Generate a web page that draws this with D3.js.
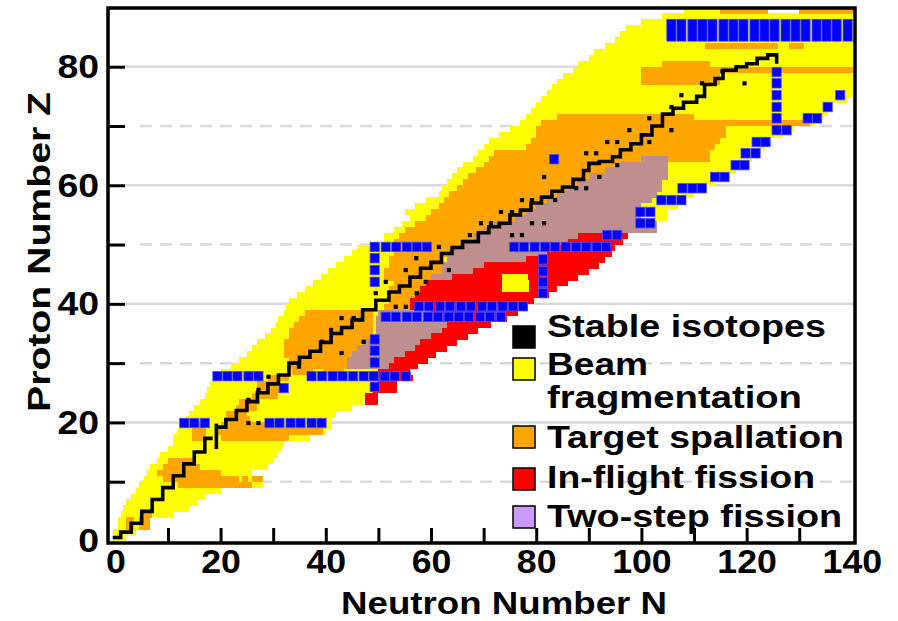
<!DOCTYPE html>
<html>
<head>
<meta charset="utf-8">
<script src="https://cdn.jsdelivr.net/npm/d3@7"></script>
<style>
  body { margin: 0; background: #fff; }
  text { font-family: 'Liberation Sans', Arial, sans-serif; font-weight: bold; fill: #000; }
</style>
</head>
<body>
<div id="chart"></div>
<script>
// ---- data: [Z row, N from, N to] ----
const beamRows = [
  [0,-0.5,2],[1,-0.5,4],[2,0.5,5],[3,0.5,6.5],[4,1,11],[5,1.5,14],[6,2,15.5],[7,3,17],[8,4,20],[9,4.5,28],
  [10,5.5,28],[11,6,26],[12,6.5,29],[13,8,30],[14,8.5,31],[15,10,31.5],[16,11,32],[17,11,37],[18,12,40],[19,12.5,41],
  [20,13.5,41],[21,14,42],[22,15,45],[23,16,47],[24,17,48],[25,17.5,53.5],[26,18,53.5],[27,18.5,56.5],[28,20,56],[29,22,57.5],
  [30,23.5,59.5],[31,25,61],[32,26,63],[33,27,65],[34,28.5,67],[35,29.5,69],[36,30.5,71.5],[37,31,74.5],[38,32,76.5],[39,32.5,78.5],
  [40,33,79.5],[41,34.5,82.5],[42,36,84],[43,37.5,86],[44,39,88],[45,40.5,90],[46,42,92],[47,43.5,93],[48,45,94.5],[49,46,95],
  [50,51,96.5],[51,51,97.5],[52,53,103],[53,54.5,103],[54,56,105],[55,55,105],[56,57,107],[57,59,108],[58,61.5,110],[59,62,112],
  [60,63,114],[61,64,116.5],[62,65,118],[63,66,120],[64,68,121],[65,69,122.5],[66,70,123.5],[67,71,124.5],[68,73,127],[69,75,129],
  [70,77,133],[71,78,134.5],[72,79,135.5],[73,80,136.5],[74,81,139],[75,82,141],[76,83,141],[77,84,141],[78,85,141],[79,87,141],
  [80,88,141],[81,90,141],[82,91,141],[83,93,141],[84,95,141],[85,96,141],[86,97,141],[87,100,141],[88,104,141],
  [89,108,124],[89,130,141]
];

const spallationRows = [
  [2,2,3.5],[3,2,3.5],[2,4.5,6.5],[3,4.5,6.5],[4,5,7],
  [9,12,26],[10,9,23.5],[10,24,25.3],[10,26,28],[11,8,20],[12,9,16],[13,10,15],
  [17,14.5,17.3],[18,14.5,17.3],[19,15,17.3],
  [17,20,33],[18,19.5,39.5],[19,20,28.5],[20,21,25.5],[21,21,25],
  [22,23,27],[23,23.5,27.5],[24,26,31],[25,27,32],[26,27,31],[27,29,33],
  [28,33.5,37.5],[28,39.5,43.5],[29,33,44],[30,33,44],[31,32,45],[32,32,46],[33,32,47],
  [34,33,49],[35,33,49],[36,34,49],[37,35,49],[38,36,49],
  [39,51,56],[40,52,58],[41,52,59],[42,52,60],[43,53,60],[44,51,61],[45,51,62],[46,52,62],[47,52,62],[48,53,63],[49,56,64],
  [50,53,66],[51,54,68],[52,55,70],[53,57,72],[54,59,76],[55,60,78],[56,61.5,80],[57,62.5,82],[58,63.5,84],[59,65,86],
  [60,66,88],[61,67,90],[62,68.5,93],[63,70,96],
  [64,71,113],[65,72,113],[66,78,114],[67,79,115],[68,80,116],[69,80,116],[70,81,116],[70,116,132],[71,84,110],
  [77,100,115],[78,100,115],[79,100,141],[80,104,113],[83,112,126],[83,128,131],[89,115,124],[89,130,141]
];

const twoStepRows = [
  [29,44,52],[30,44,53],[31,45,55],[32,46,57],[33,47,58],[34,49.5,60],[35,49.5,62],[36,49.5,63],[37,49.5,60],[38,50,60],
  [44,60,64],[45,62,68],[46,62,70],[47,63,78],[48,63,82],[49,64,75],[50,66,86],[51,68,88],[52,70,103],[53,72,103],
  [54,76,100],[55,78,100],[56,80,100],[57,82,102],[58,84,103],[59,86,104],[60,88,104],[61,90,105],[62,93,105],[63,96,105],[64,100,105]
];

const inflightRows = [
  [23,47.5,50],[24,47.5,50],[25,49,53.5],[26,50,53.5],[27,50,56.5],[28,50,56],[29,52,57.5],[30,53,59.5],[31,55,61],
  [32,57,63],[33,58,65],[34,60,67],[35,62,69],[36,63,71.5],[37,60,74.5],[38,60,76.5],[39,56,78.5],[40,56,79.5],
  [41,57,82.5],[42,58,84],[43,59,86],[44,64,88],[45,68,90],[46,70,92],[47,78,93],[48,82,94.5],[49,82,95],[50,86,96.5],[51,88,97.5]
];

// yellow spots lying inside the fission area
const beamSpots = [[42,73.5,78.7],[43,73.5,78.7],[44,73.5,78.5]];

// blue markers, [N, Z] centres
const magicZ20 = [[13.1,19.9],[15,19.9],[17,19.9],[29.3,19.9],[31.2,19.9],[33.3,19.9],[35.2,19.9],[37.3,19.9],[39.2,19.9]];
const magicZ28 = [[19.4,27.8],[21.3,27.8],[23.2,27.8],[25.3,27.8],[27.2,27.8],[37.3,27.8],[39.3,27.8],[41.3,27.8],[43.2,27.8],
  [45.2,27.8],[47.2,27.8],[49.1,27.8],[51.2,27.8],[53.1,27.8],[55.2,27.8],[32,25.8]];
const magicN50 = [[49.3,26],[49.3,30.1],[49.3,32.1],[49.3,34],[49.3,43.7],[49.3,45.7],[49.3,47.7]];
const magicZ38 = [[51.4,37.8],[53.3,37.8],[55.4,37.8],[57.3,37.8],[59.4,37.8],[61.3,37.8],[63.4,37.8],[65.3,37.8],[67.2,37.8],
  [69.3,37.8],[71.2,37.8],[73.3,37.8]];
const magicZ40 = [[57.7,39.6],[59.6,39.6],[61.7,39.6],[63.6,39.6],[65.7,39.6],[67.6,39.6],[69.7,39.6],[71.6,39.6],[73.6,39.6],
  [75.6,39.6],[77.5,39.6]];
const magicZ50 = [[49.3,49.6],[51.4,49.6],[53.4,49.6],[55.4,49.6],[57.3,49.6],[59.2,49.6],[75.8,49.6],[77.7,49.6],[79.7,49.6],
  [81.7,49.6],[83.6,49.6],[85.6,49.6],[87.6,49.6],[89.5,49.6],[91.5,49.6],[93.3,49.6]];
const magicN82 = [[81.3,47.5],[81.3,45.5],[81.3,43.7],[81.3,41.8]];
const dripLine = [[93.5,51.6],[95.4,51.6],[99.8,53.6],[101.7,53.6],[99.8,55.5],[101.7,55.5],[103.8,57.5],[105.7,57.5],[107.6,57.5],
  [107.8,59.5],[109.7,59.5],[111.5,59.5],[114,61.4],[115.8,61.4],[117.9,63.4],[119.6,63.4],[119.8,65.4],[121.7,65.4],
  [121.9,67.3],[123.6,67.3],[125.7,69.3],[127.6,69.3],[131.6,71.3],[133.4,71.3],[135.4,73.2],[137.8,75.2],[83.4,64.4]];
const magicN126 = [[125.7,71.3],[125.7,73.2],[125.7,75.2],[125.7,77.2],[125.7,79.1]];
// band of tall markers along the top, N centres and its Z span
const topBandN = [105.7,107.6,109.7,111.6,113.5,115.6,117.5,119.4,121.5,123.4,125.3,127.4,129.3,131.2,133.3,135.2,137.1,139.2];
const topBandZ = [84.3, 88];

// stable isotopes: valley line and single ones
const stableLow = [[-0.5,0.6],[1,1.5],[3,3],[5,5],[7,7],[9,9],[11,11],[13,13],[15,15],[17,17.3],[18.5,17.3]];
const stableN20 = [[19.2,15.5],[19.2,19.8]];
const stableMain = [[19.2,19.2],[21,20.5],[23,22],[25,23.5],[27,25],[29,26.5],[31,28],[33,30],[35,31],[37,32],[39,33.5],
  [41,35],[43,36],[45,37.3],[47,39],[49.5,40.6],[52,42],[54,43],[56,44.5],[58,46],[60,47],[62,48.5],[64,49.5],[66,50.5],
  [69,52],[71,53],[73,53.6],[75,55],[77,55.8],[79,57],[81,58],[83,59],[85,59.7],[87,61],[89,62.5],[90,63.7],[92,64],
  [94.5,64.8],[96,66],[98,67],[100,68.5],[102,70],[104,72],[106,73],[108,74],[110.5,75],[112,77],[114,78],[115.5,79.4],
  [118,80],[120,80.5],[122,81.4],[124,82],[125.7,82.3],[125.7,80.5]];
const stableDots = [[25.3,19.9],[27.2,19.9],[25.3,23.8],[27.2,25.5],[29.1,27.7],[34.9,29.4],[39.3,33.6],[41,35.6],[43,31.7],
  [43,37.6],[45.3,37.6],[47.2,33.6],[49.5,41.8],[51.4,43.7],[53.3,39.5],[55.2,39.5],[55.2,45.7],[57.2,47.7],[59,43.7],
  [57.3,41.8],[63.4,45.7],[61.5,49.6],[67.4,51.6],[69.5,53.6],[71.4,53.6],[73.3,55.5],[75.4,55.5],[75.4,51.6],[77.3,51.6],
  [79.2,53.6],[81.5,53.6],[77.3,57.5],[79.2,57.5],[83.6,57.5],[87.6,59.5],[89.5,59.5],[81.5,61.4],[92,61.4],[95.4,63.4],
  [89.5,65.4],[91.4,65.4],[93.5,67.3],[95.4,67.3],[97.7,69.3],[101.5,67.3],[105.7,69.3],[101.5,71.3],[105.7,73.2],
  [107.6,75.2],[111.5,77.2],[119.6,77.2],[115.4,79.2]];

const zTicks = [10,20,30,40,50,60,70,80];
const nTicks = [10,20,30,40,50,60,70,80,90,100,110,120,130];
const zLabels = [0,20,40,60,80];
const nLabels = [0,20,40,60,80,100,120,140];
const gridSolid = [20,40,60,80];
const gridDashed = [10,30,50,70];

const legendItems = [
  { lines: ['Stable isotopes'], color: '#000000', w: [279] },
  { lines: ['Beam', 'fragmentation'], color: '#ffff00', w: [101, 255] },
  { lines: ['Target spallation'], color: '#ffa500', w: [297] },
  { lines: ['In-flight fission'], color: '#ff0000', w: [268] },
  { lines: ['Two-step fission'], color: '#cc99ff', w: [295] }
];

// ---- drawing ----
const width = 898, height = 621;
const plot = { left: 108, right: 855, top: 8, bottom: 543 };

const xScale = d3.scaleLinear().domain([-1.4, 140.6]).range([plot.left, plot.right]);
const yScale = d3.scaleLinear().domain([-0.34, 89.9]).range([plot.bottom, plot.top]);

const svg = d3.select('#chart').append('svg')
  .attr('width', width)
  .attr('height', height);

svg.append('defs').append('clipPath').attr('id', 'plot-clip')
  .append('rect')
    .attr('x', plot.left).attr('y', plot.top)
    .attr('width', plot.right - plot.left).attr('height', plot.bottom - plot.top);

// grid
const gridG = svg.append('g').attr('class', 'grid');
gridG.selectAll('.solid').data(gridSolid).enter().append('line')
  .attr('class', 'solid')
  .attr('x1', plot.left + 17).attr('x2', plot.right)
  .attr('y1', d => yScale(d)).attr('y2', d => yScale(d))
  .attr('stroke', '#d9d9d9').attr('stroke-width', 2.5);
gridG.selectAll('.dash').data(gridDashed).enter().append('line')
  .attr('class', 'dash')
  .attr('x1', plot.left + 32).attr('x2', plot.right)
  .attr('y1', d => yScale(d)).attr('y2', d => yScale(d))
  .attr('stroke', '#d9d9d9').attr('stroke-width', 2.5)
  .attr('stroke-dasharray', '12,8');

const cells = svg.append('g').attr('clip-path', 'url(#plot-clip)');
const rowH = yScale(0) - yScale(1);

const drawRows = (rows, color) => {
  cells.append('g').selectAll('rect').data(rows).enter().append('rect')
    .attr('x', d => xScale(d[1]))
    .attr('y', d => yScale(d[0] + 1))
    .attr('width', d => xScale(d[2]) - xScale(d[1]))
    .attr('height', rowH + 0.4)
    .attr('fill', color)
    .attr('shape-rendering', 'crispEdges');
};

drawRows(beamRows, '#ffff00');
drawRows(spallationRows, '#ffa500');
drawRows(twoStepRows, '#bf8f8f');
drawRows(inflightRows, '#ff0000');
drawRows(beamSpots, '#ffff00');

// blue markers
const bw = xScale(1.75) - xScale(0);
const bh = yScale(0) - yScale(1.6);
const markers = [].concat(magicZ20, magicZ28, magicN50, magicZ38, magicZ40, magicZ50, magicN82, dripLine, magicN126);
const blueG = cells.append('g');
blueG.selectAll('.marker').data(markers).enter().append('rect')
  .attr('class', 'marker')
  .attr('x', d => xScale(d[0]) - bw / 2)
  .attr('y', d => yScale(d[1]) - bh / 2)
  .attr('width', bw)
  .attr('height', bh)
  .attr('fill', '#0000ff')
  .attr('stroke', '#5050ff')
  .attr('stroke-width', 0.8);
blueG.selectAll('.band').data(topBandN).enter().append('rect')
  .attr('class', 'band')
  .attr('x', d => xScale(d) - bw / 2)
  .attr('y', yScale(topBandZ[1]))
  .attr('width', bw)
  .attr('height', yScale(topBandZ[0]) - yScale(topBandZ[1]))
  .attr('fill', '#0000ff')
  .attr('stroke', '#5050ff')
  .attr('stroke-width', 0.8);

// stable isotopes
const stepLine = d3.line()
  .x(d => xScale(d[0]))
  .y(d => yScale(d[1]))
  .curve(d3.curveStepAfter);
[stableLow, stableN20, stableMain].forEach(pts => {
  cells.append('path')
    .attr('d', stepLine(pts))
    .attr('fill', 'none')
    .attr('stroke', '#000')
    .attr('stroke-width', 3.6);
});
cells.append('g').selectAll('rect').data(stableDots).enter().append('rect')
  .attr('x', d => xScale(d[0]) - 2.1)
  .attr('y', d => yScale(d[1]) - 2.1)
  .attr('width', 4.2).attr('height', 4.2)
  .attr('fill', '#000');

// stretch text horizontally like the source image
const stretch = (sel, k) => sel.each(function() {
  const w = this.getComputedTextLength();
  if (w > 0) d3.select(this).attr('textLength', w * k).attr('lengthAdjust', 'spacingAndGlyphs');
});

// axes
const yAxis = d3.axisLeft(yScale)
  .tickValues(zTicks.concat([0]))
  .tickSize(-17)
  .tickPadding(9)
  .tickFormat(d => zLabels.includes(d) ? d : '');
const yAxisG = svg.append('g')
  .attr('transform', `translate(${plot.left}, 0)`)
  .call(yAxis);
yAxisG.selectAll('.domain').remove();
yAxisG.selectAll('line').attr('stroke', '#000').attr('stroke-width', 3)
  .filter(d => d === 0).remove();
yAxisG.selectAll('text').attr('font-size', 34).attr('font-family', null).call(stretch, 1.1);

const xAxis = d3.axisBottom(xScale)
  .tickValues(nTicks.concat([0, 140]))
  .tickSize(-15)
  .tickPadding(6)
  .tickFormat(d => nLabels.includes(d) ? d : '');
const xAxisG = svg.append('g')
  .attr('transform', `translate(0, ${plot.bottom})`)
  .call(xAxis);
xAxisG.selectAll('.domain').remove();
xAxisG.selectAll('line').attr('stroke', '#000').attr('stroke-width', 3)
  .filter(d => d === 0 || d === 140).remove();
xAxisG.selectAll('text').attr('font-size', 34).attr('font-family', null).call(stretch, 1.05);

// frame
svg.append('rect')
  .attr('x', plot.left).attr('y', plot.top)
  .attr('width', plot.right - plot.left).attr('height', plot.bottom - plot.top)
  .attr('fill', 'none')
  .attr('stroke', '#000')
  .attr('stroke-width', 3.5);

// axis titles
svg.append('text')
  .attr('x', 504).attr('y', 614)
  .attr('text-anchor', 'middle')
  .attr('font-size', 31)
  .text('Neutron Number N')
  .attr('textLength', 326).attr('lengthAdjust', 'spacingAndGlyphs');

svg.append('text')
  .attr('transform', 'translate(50, 252) rotate(-90)')
  .attr('text-anchor', 'middle')
  .attr('font-size', 31)
  .text('Proton Number Z')
  .attr('textLength', 320).attr('lengthAdjust', 'spacingAndGlyphs');

// legend
const legendBoxes = [326, 358, 426, 468, 506];
const legendBase = [[337], [375, 408], [448], [488], [527]];
const legendG = svg.append('g').attr('class', 'legend');
legendItems.forEach((item, i) => {
  legendG.append('rect')
    .attr('x', 513).attr('y', legendBoxes[i])
    .attr('width', 22).attr('height', 22)
    .attr('fill', item.color)
    .attr('stroke', '#000')
    .attr('stroke-width', 1.5);
  item.lines.forEach((line, j) => {
    legendG.append('text')
      .attr('x', 547).attr('y', legendBase[i][j])
      .attr('font-size', 31)
      .text(line)
      .attr('textLength', item.w[j]).attr('lengthAdjust', 'spacingAndGlyphs');
  });
});
</script>
</body>
</html>
